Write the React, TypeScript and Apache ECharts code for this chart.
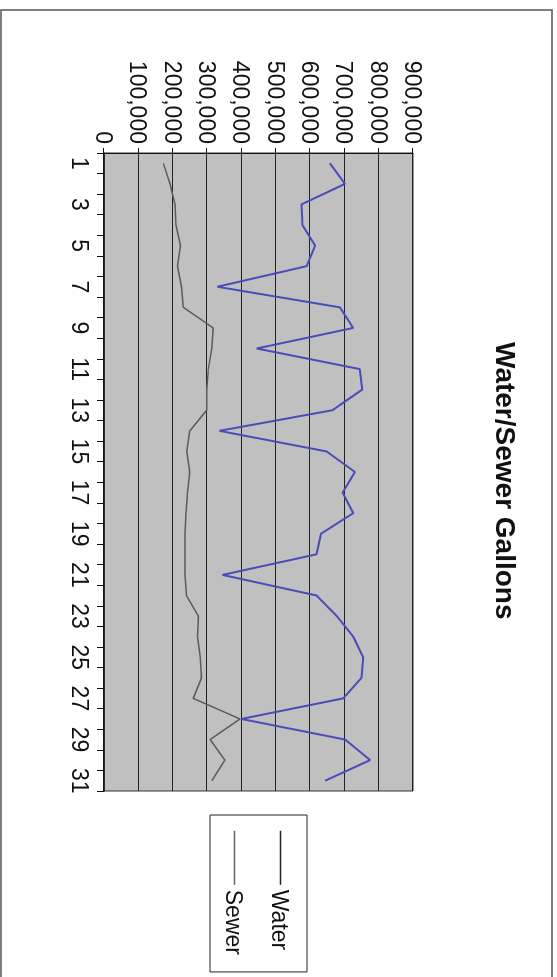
import React, { useEffect, useRef } from "react";
import * as echarts from "echarts";

const days = ["1","2","3","4","5","6","7","8","9","10","11","12","13","14","15","16","17","18","19","20","21","22","23","24","25","26","27","28","29","30","31"];
const water = [658000, 702000, 575000, 578000, 615000, 590000, 330000, 687000, 726000, 445000, 745000, 752000, 665000, 336000, 648000, 731000, 695000, 726000, 632000, 619000, 345000, 619000, 678000, 726000, 755000, 750000, 697000, 400000, 702000, 775000, 644000];
const sewer = [173000, 192000, 207000, 210000, 223000, 214000, 226000, 231000, 318000, 314000, 304000, 299000, 299000, 250000, 241000, 250000, 243000, 239000, 236000, 236000, 236000, 240000, 275000, 272000, 280000, 284000, 260000, 396000, 309000, 352000, 314000];
const valueTicks = { min: 0, max: 900000, interval: 100000 };
const titleText = "Water/Sewer Gallons";

const FONT = "'Liberation Sans', Arial, Helvetica, sans-serif";

export default function App() {
  const ref = useRef<HTMLDivElement>(null);
  useEffect(() => {
    if (!ref.current) return;
    const chart = echarts.init(ref.current, null, { renderer: "svg" });
    chart.setOption({
      animation: false,
      backgroundColor: "#ffffff",
      title: {
        text: titleText,
        left: 342,
        top: 37,
        padding: 0,
        textStyle: { fontFamily: FONT, fontSize: 28, fontWeight: "bold", color: "#111" },
      },
      legend: {
        orient: "vertical",
        left: 815,
        top: 250,
        padding: [15, 17, 13, 15],
        itemGap: 23,
        itemWidth: 54,
        itemHeight: 14,
        borderColor: "#222",
        borderWidth: 1,
        textStyle: { fontFamily: FONT, fontSize: 23, color: "#111" },
        data: [
          { name: "Water", itemStyle: { opacity: 0 }, lineStyle: { color: "#222", width: 1.5 } },
          { name: "Sewer", itemStyle: { opacity: 0 }, lineStyle: { color: "#666", width: 1.5 } },
        ],
      },
      grid: {
        left: 153,
        top: 144,
        width: 638,
        height: 309,
        show: true,
        backgroundColor: "#c0c0c0",
        borderColor: "#333",
        borderWidth: 1,
      },
      xAxis: {
        type: "category",
        data: days,
        boundaryGap: true,
        axisLine: { show: true, lineStyle: { color: "#111", width: 1.5 } },
        axisTick: { show: true, interval: 0, length: 7, lineStyle: { color: "#111" } },
        axisLabel: { interval: 1, margin: 12, fontFamily: FONT, fontSize: 23, color: "#111" },
        splitLine: { show: false },
      },
      yAxis: {
        type: "value",
        min: valueTicks.min,
        max: valueTicks.max,
        interval: valueTicks.interval,
        axisLine: { show: true, lineStyle: { color: "#111", width: 1 } },
        axisTick: { show: true, length: 5, lineStyle: { color: "#111" } },
        axisLabel: {
          margin: 9,
          fontFamily: FONT,
          fontSize: 23,
          color: "#111",
          formatter: (v: number) => v.toLocaleString("en-US"),
        },
        splitLine: { show: true, lineStyle: { color: "#222", width: 1 } },
      },
      series: [
        {
          name: "Water",
          type: "line",
          data: water,
          symbol: "none",
          lineStyle: { color: "#4a4cb8", width: 2 },
          itemStyle: { color: "#4a4cb8" },
        },
        {
          name: "Sewer",
          type: "line",
          data: sewer,
          symbol: "none",
          lineStyle: { color: "#5a5a5a", width: 1.5 },
          itemStyle: { color: "#5a5a5a" },
        },
      ],
      graphic: [
        {
          type: "rect",
          shape: { x: 10, y: 5, width: 990, height: 551 },
          style: { fill: "none", stroke: "#555", lineWidth: 1.5 },
          silent: true,
        },
      ],
    });
    return () => chart.dispose();
  }, []);
  return (
    <div
      ref={ref}
      style={{
        position: "fixed",
        left: 0,
        top: 0,
        width: 977,
        height: 557,
        transformOrigin: "0 0",
        transform: "translate(557px, 0px) rotate(90deg)",
      }}
    />
  );
}
